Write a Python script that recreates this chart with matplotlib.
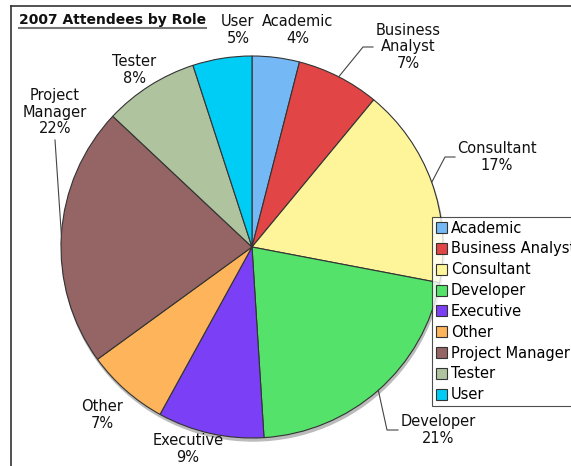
import numpy as np
import matplotlib.pyplot as plt
from matplotlib.lines import Line2D

roles = ["Academic", "Business Analyst", "Consultant", "Developer", "Executive",
         "Other", "Project Manager", "Tester", "User"]
shares = [4, 7, 17, 21, 9, 7, 22, 8, 5]
colors = ["#74b9f6", "#e24545", "#fef59b", "#54e26a", "#7b3ff6",
          "#fdb45a", "#946564", "#afc39e", "#00cdf6"]
label_text = ["Academic", "Business\nAnalyst", "Consultant", "Developer", "Executive",
              "Other", "Project\nManager", "Tester", "User"]

W, H = 571, 466
# layout in pixel coordinates (y from top)
cx, cy, R = 252, 247, 191
label_pos = [(298, 30), (408, 47), (497, 157), (438, 430), (188, 449),
             (102, 415), (55, 112), (134, 70), (238, 30)]
# leader elbows: (elbow point, end point) or None
leaders = {1: ((363, 47), (373, 47)),
           2: ((445, 157), (455, 157)),
           3: ((387, 430), (398, 430)),
           6: ((55, 140), None)}

fig = plt.figure(figsize=(W / 100, H / 100), dpi=100)
ax = fig.add_axes([0, 0, 1, 1])

def py(y):
    return H - y

# soft shadow under the pie
shadow = plt.Circle((cx + 1, py(cy) - 3), R, color="#bbbbbb", zorder=0)
ax.add_patch(shadow)

wedges, _ = ax.pie(shares, colors=colors, startangle=90, counterclock=False,
                   center=(cx, py(cy)), radius=R, frame=True,
                   wedgeprops=dict(edgecolor="#333333", linewidth=0.8))
ax.set_xlim(0, W)
ax.set_ylim(0, H)
ax.set_aspect("equal")
ax.axis("off")

fs = 10.5
for i, w in enumerate(wedges):
    lx, ly = label_pos[i]
    ax.text(lx, py(ly), f"{label_text[i]}\n{shares[i]}%", ha="center", va="center",
            fontsize=fs, color="#111111", linespacing=1.1)
    if i in leaders:
        ang = np.deg2rad((w.theta1 + w.theta2) / 2)
        sx, sy = cx + R * np.cos(ang), py(cy) + R * np.sin(ang)
        elbow, end = leaders[i]
        xs = [sx, elbow[0]]
        ys = [sy, py(elbow[1])]
        if end is not None:
            xs.append(end[0])
            ys.append(py(end[1]))
        ax.plot(xs, ys, color="#444444", linewidth=0.8)

# legend, runs off the right edge like the original
leg = fig.legend(wedges, roles, loc="upper left",
                 bbox_to_anchor=(432 / W, 1 - 217 / H), fontsize=fs,
                 frameon=True, fancybox=False, shadow=False, borderpad=0.25,
                 labelspacing=0.4, handlelength=0.8, handleheight=0.8,
                 handletextpad=0.25, borderaxespad=0)
leg.get_frame().set_edgecolor("#222222")
leg.get_frame().set_linewidth(0.8)

# title with underline
title = fig.text(19 / W, 1 - 20 / H, "2007 Attendees by Role", fontsize=10,
                 fontweight="bold", ha="left", va="center", color="#111111")
fig.canvas.draw()
bb = title.get_window_extent()
fig.add_artist(Line2D([bb.x0 / W, bb.x1 / W], [(bb.y0 - 1) / H, (bb.y0 - 1) / H],
                      color="#777777", linewidth=1.5))

# outer frame lines
fig.add_artist(Line2D([11 / W, 1], [1 - 6 / H, 1 - 6 / H], color="#333333", linewidth=1.2))
fig.add_artist(Line2D([11 / W, 11 / W], [0, 1 - 6 / H], color="#333333", linewidth=1.2))

fig.savefig("out.png", dpi=100)
